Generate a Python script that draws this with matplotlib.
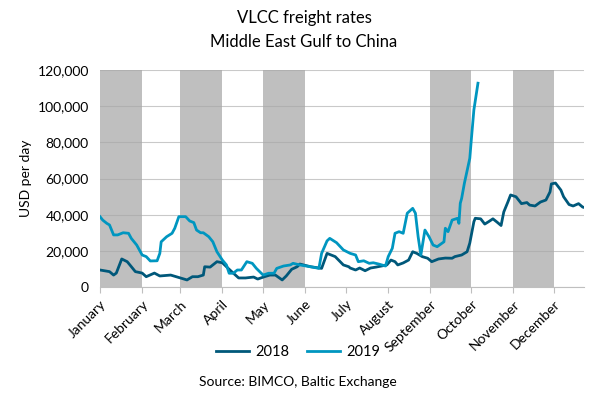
import matplotlib
matplotlib.use("Agg")
import matplotlib.pyplot as plt
import matplotlib.dates as mdates
import pandas as pd
import numpy as np

plt.rcParams['font.family'] = ['Lato', 'DejaVu Sans']

# x = day of year offset, y = USD per day
days_2018 = [0, 7, 10, 12, 16, 20, 22, 26, 31, 34, 40, 44, 52, 56, 64, 68, 72, 76, 77, 81,
             86, 90, 94, 98, 102, 107, 113, 116, 121, 125, 129, 134, 137, 141, 145, 147, 155,
             163, 167, 173, 179, 183, 184, 188, 191, 195, 199, 203, 207, 211, 214, 217, 219,
             223, 227, 230, 233, 237, 241, 244, 249, 254, 259, 261, 266, 270, 272, 275, 276,
             280, 283, 286, 289, 292, 295, 297, 300, 302, 306, 310, 314, 316, 320, 324, 328,
             331, 332, 335, 339, 341, 345, 348, 352, 355, 356]
rates_2018 = [9400, 8500, 6600, 7700, 15500, 14000, 12200, 8500, 7700, 5700, 7700, 6100, 6600,
              5700, 3900, 5700, 5700, 6600, 11200, 11000, 14000, 13400, 10500, 7700, 5000, 5000,
              5500, 4400, 5700, 6600, 6600, 3900, 6100, 9800, 11200, 12700, 11200, 10300, 18600,
              16800, 12200, 11200, 10500, 9400, 10500, 9000, 10500, 11000, 11600, 12200, 14900,
              14000, 12200, 13300, 14900, 19500, 18600, 16800, 15900, 14000, 15500, 16000, 15900,
              16800, 17700, 19500, 24300, 36100, 38000, 37700, 34800, 36200, 37700, 35900, 34000,
              41500, 47000, 50900, 49900, 46100, 46700, 45300, 44800, 47000, 48100, 52600, 57000,
              57500, 53600, 49900, 45600, 44800, 46100, 44200, 44000]

days_2019 = [0, 2, 5, 7, 10, 13, 17, 21, 23, 27, 31, 34, 37, 42, 44, 45, 49, 53, 55, 58, 63,
             66, 69, 71, 74, 76, 80, 83, 86, 90, 93, 95, 98, 101, 104, 108, 112, 115, 120, 124,
             128, 130, 135, 140, 142, 147, 157, 161, 163, 167, 169, 174, 179, 184, 188, 190,
             194, 198, 201, 205, 210, 212, 215, 217, 220, 223, 226, 230, 232, 234, 236, 239,
             242, 245, 248, 253, 254, 256, 259, 263, 264, 265, 266, 268, 272, 273, 275, 278]
rates_2019 = [38900, 37000, 35200, 34300, 28800, 28800, 30000, 29700, 26900, 23200, 17700, 16800,
              14400, 14500, 18600, 25000, 27800, 29700, 32500, 38900, 38900, 36500, 35600, 31500,
              30000, 30000, 27800, 25000, 19500, 14900, 12200, 7600, 7600, 9400, 9400, 14000,
              13100, 10300, 6600, 7600, 7600, 10300, 11600, 12200, 13100, 12200, 10900, 10300,
              18600, 25500, 26900, 24500, 20500, 18600, 17700, 14000, 14500, 13100, 13400, 12700,
              11600, 16800, 21400, 29700, 30600, 29700, 40800, 43500, 40800, 27800, 17700, 31500,
              27800, 23200, 22300, 25000, 32500, 30600, 37000, 38000, 35200, 46300, 49000, 57300,
              71200, 80400, 97900, 112700]

months = ['January', 'February', 'March', 'April', 'May', 'June', 'July', 'August',
          'September', 'October', 'November', 'December']
shaded_months = [1, 3, 5, 9, 11]

base = pd.Timestamp('2018-01-01')
d18 = base + pd.to_timedelta(days_2018, unit='D')
d19 = base + pd.to_timedelta(days_2019, unit='D')

fig = plt.figure(figsize=(6.08, 3.98), dpi=100)
ax = fig.add_axes([100/608, 1-287/398, 484/608, 217/398])

for m in shaded_months:
    start = pd.Timestamp(2018, m, 1)
    end = pd.Timestamp(2018, m + 1, 1) if m < 12 else pd.Timestamp(2019, 1, 1)
    ax.axvspan(start, end, color='#bfbfbf', lw=0, zorder=0)

ax.set_ylim(0, 120000)
ax.set_xlim(base, pd.Timestamp('2018-12-23'))
ax.set_yticks(np.arange(0, 120001, 20000))
ax.yaxis.set_major_formatter(matplotlib.ticker.FuncFormatter(lambda v, p: f'{int(v):,}'))
ax.grid(axis='y', color='#a6a6a6', lw=0.8, alpha=0.6, zorder=1)
ax.set_axisbelow(False)

l1, = ax.plot(d18, rates_2018, color='#00587a', lw=2.0, zorder=3, label='2018')
l2, = ax.plot(d19, rates_2019, color='#0096c0', lw=2.0, zorder=4, label='2019')

month_starts = [pd.Timestamp(2018, i + 1, 1) for i in range(12)]
ax.set_xticks(month_starts)
ax.set_xticklabels(months, rotation=45, ha='right', rotation_mode='anchor', fontsize=10)
ax.tick_params(axis='x', length=4, color='#bfbfbf', pad=4)
ax.tick_params(axis='y', length=0, labelsize=10, pad=8)

for s in ['top', 'right', 'left']:
    ax.spines[s].set_visible(False)
ax.spines['bottom'].set_color('#bfbfbf')

ax.set_ylabel('USD per day', fontsize=10, labelpad=4)

fig.text(0.5, 1-18/398, 'VLCC freight rates', ha='center', va='center', fontsize=12)
fig.text(0.5, 1-42/398, 'Middle East Gulf to China', ha='center', va='center', fontsize=12)

fig.legend(handles=[l1, l2], loc='center', bbox_to_anchor=(0.49, 1-352/398), ncol=2,
           frameon=False, fontsize=10.5, handlelength=2.3, columnspacing=1.2, handletextpad=0.4)
fig.text(0.49, 1-382/398, 'Source: BIMCO, Baltic Exchange', ha='center', va='center', fontsize=10)

fig.savefig('out.png', dpi=100)
